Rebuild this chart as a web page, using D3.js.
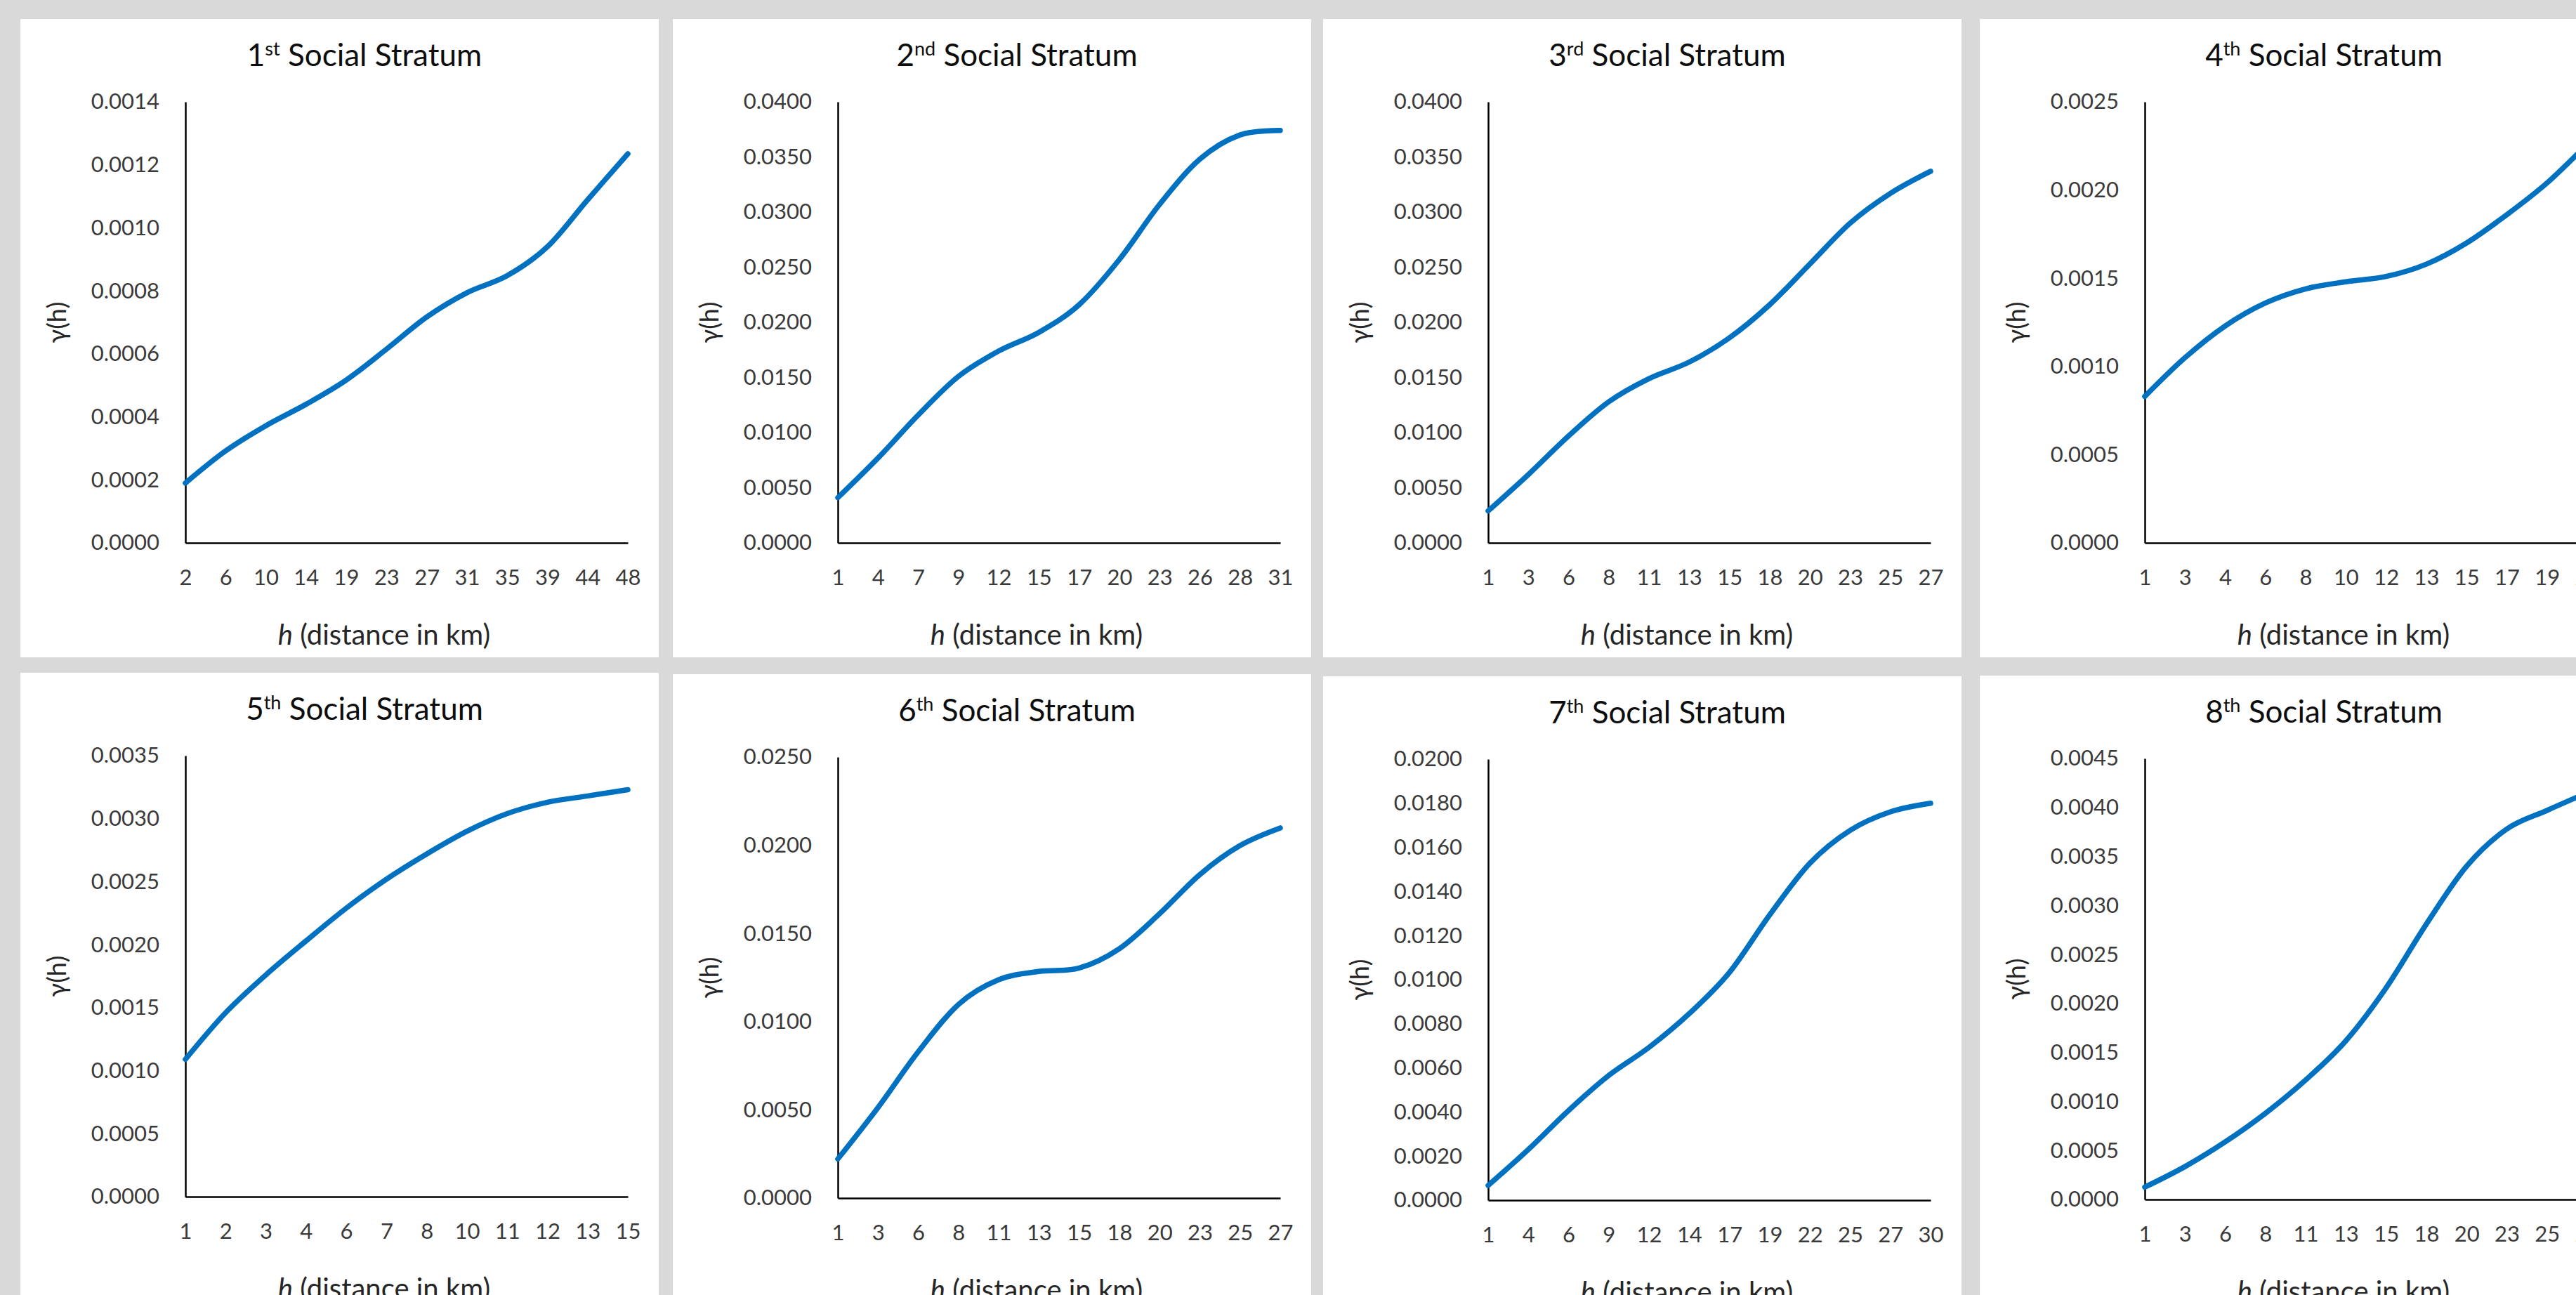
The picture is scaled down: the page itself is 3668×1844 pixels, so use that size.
<!DOCTYPE html>
<html>
<head>
<meta charset="utf-8">
<script src="https://cdn.jsdelivr.net/npm/d3@7"></script>
<style>
  html, body { margin: 0; padding: 0; background: #d9d9d9; }
  svg { display: block; }
</style>
</head>
<body>
<svg id="chart" width="3668" height="1844"></svg>
<script>
// Semivariogram panels, one per social stratum
const ordinals = ["1", "2", "3", "4", "5", "6", "7", "8"];
const ordinalSuffixes = ["st", "nd", "rd", "th", "th", "th", "th", "th"];

// Lag distance labels (km) on each category axis
const lags1 = [2, 6, 10, 14, 19, 23, 27, 31, 35, 39, 44, 48];
const lags2 = [1, 4, 7, 9, 12, 15, 17, 20, 23, 26, 28, 31];
const lags3 = [1, 3, 6, 8, 11, 13, 15, 18, 20, 23, 25, 27];
const lags4 = [1, 3, 4, 6, 8, 10, 12, 13, 15, 17, 19, 21];
const lags5 = [1, 2, 3, 4, 6, 7, 8, 10, 11, 12, 13, 15];
const lags6 = [1, 3, 6, 8, 11, 13, 15, 18, 20, 23, 25, 27];
const lags7 = [1, 4, 6, 9, 12, 14, 17, 19, 22, 25, 27, 30];
const lags8 = [1, 3, 6, 8, 11, 13, 15, 18, 20, 23, 25, 27];

// Semivariance gamma(h) at each lag
const gamma1 = [0.000190, 0.000292, 0.000372, 0.000440, 0.000517, 0.000615, 0.000717, 0.000794, 0.000848, 0.000940, 0.001089, 0.001235];
const gamma2 = [0.0041, 0.0077, 0.0116, 0.0151, 0.0174, 0.0191, 0.0216, 0.0257, 0.0307, 0.0348, 0.0370, 0.0374];
const gamma3 = [0.0029, 0.0062, 0.0097, 0.0128, 0.0149, 0.0164, 0.0186, 0.0216, 0.0253, 0.0290, 0.0317, 0.0337];
const gamma4 = [0.00083, 0.00105, 0.00123, 0.00136, 0.00144, 0.00148, 0.00151, 0.00158, 0.00170, 0.00186, 0.00204, 0.00226];
const gamma5 = [0.00109, 0.00146, 0.00176, 0.00203, 0.00229, 0.00252, 0.00272, 0.00290, 0.00304, 0.00313, 0.00318, 0.00323];
const gamma6 = [0.00222, 0.00514, 0.00830, 0.01098, 0.01238, 0.01285, 0.01304, 0.01414, 0.01612, 0.01834, 0.01998, 0.02098];
const gamma7 = [0.00067, 0.00230, 0.00407, 0.00566, 0.00693, 0.00846, 0.01033, 0.01294, 0.01528, 0.01677, 0.01761, 0.01800];
const gamma8 = [0.000126, 0.000336, 0.000588, 0.00088, 0.00122, 0.00162, 0.00216, 0.00281, 0.00340, 0.00378, 0.00397, 0.00415];

// Value-axis range and tick step of each panel
const yMaxima = [0.0014, 0.0400, 0.0400, 0.0025, 0.0035, 0.0250, 0.0200, 0.0045];
const yTickSteps = [0.0002, 0.0050, 0.0050, 0.0005, 0.0005, 0.0050, 0.0020, 0.0005];

const lagSets = [lags1, lags2, lags3, lags4, lags5, lags6, lags7, lags8];
const gammaSets = [gamma1, gamma2, gamma3, gamma4, gamma5, gamma6, gamma7, gamma8];

const svg = d3.select("#chart");

const panelW = 909, panelH = 909;
const colX = [29, 958, 1884, 2819];
const rowY = [[27, 27, 27, 27], [958, 960, 963, 962]];
const plot = { left: 235, top: 118, width: 630, height: 628 };

const fontFamily = "Lato, 'Open Sans', 'DejaVu Sans', sans-serif";
const fmt = d3.format(".4f");

gammaSets.forEach((values, i) => {
  const r = Math.floor(i / 4), c = i % 4;
  const lags = lagSets[i];
  const panel = svg.append("g")
    .attr("transform", `translate(${colX[c]},${rowY[r][c]})`);

  panel.append("rect")
    .attr("width", panelW)
    .attr("height", panelH)
    .attr("fill", "#ffffff");

  // Chart title with superscript ordinal suffix
  const title = panel.append("text")
    .attr("x", 490)
    .attr("y", 67)
    .attr("text-anchor", "middle")
    .attr("font-family", fontFamily)
    .attr("font-size", 44)
    .attr("fill", "#0d0d0d");
  title.append("tspan").text(ordinals[i]);
  title.append("tspan")
    .attr("font-size", 27)
    .attr("dy", -15)
    .text(ordinalSuffixes[i]);
  title.append("tspan")
    .attr("dy", 15)
    .text(" Social Stratum");

  const g = panel.append("g")
    .attr("transform", `translate(${plot.left},${plot.top})`);

  const x = d3.scalePoint()
    .domain(d3.range(lags.length))
    .range([0, plot.width]);

  const y = d3.scaleLinear()
    .domain([0, yMaxima[i]])
    .range([plot.height, 0]);

  const step = yTickSteps[i];
  const yTicks = d3.range(0, Math.round(yMaxima[i] / step) + 1).map(k => k * step);

  // Value axis
  const yAxis = g.append("g")
    .call(d3.axisLeft(y)
      .tickValues(yTicks)
      .tickSize(0)
      .tickSizeOuter(0)
      .tickPadding(37)
      .tickFormat(fmt));

  // Category axis
  const xAxis = g.append("g")
    .attr("transform", `translate(0,${plot.height})`)
    .call(d3.axisBottom(x)
      .tickSize(0)
      .tickSizeOuter(0)
      .tickPadding(38)
      .tickFormat(j => lags[j]));

  [yAxis, xAxis].forEach(ax => {
    ax.select(".domain")
      .attr("stroke", "#000000")
      .attr("stroke-width", 2.5);
    ax.selectAll("text")
      .attr("font-family", fontFamily)
      .attr("font-weight", 400)
      .attr("font-size", 31)
      .attr("fill", "#3a3a3a");
  });

  // Smoothed semivariogram line
  const line = d3.line()
    .x((d, j) => x(j))
    .y(d => y(d))
    .curve(d3.curveCatmullRom.alpha(0));

  g.append("path")
    .datum(values)
    .attr("d", line)
    .attr("fill", "none")
    .attr("stroke", "#0070c0")
    .attr("stroke-width", 7.5)
    .attr("stroke-linecap", "round")
    .attr("stroke-linejoin", "round");

  // Axis titles
  panel.append("text")
    .attr("transform", `translate(51,${plot.top + plot.height / 2}) rotate(-90)`)
    .attr("text-anchor", "middle")
    .attr("dominant-baseline", "central")
    .attr("font-family", fontFamily)
    .attr("font-size", 36)
    .attr("fill", "#262626")
    .text("\u03b3(h)");

  const xTitle = panel.append("text")
    .attr("x", 518)
    .attr("y", 891)
    .attr("text-anchor", "middle")
    .attr("font-family", fontFamily)
    .attr("font-size", 40)
    .attr("fill", "#262626");
  xTitle.append("tspan").attr("font-style", "italic").text("h");
  xTitle.append("tspan").text(" (distance in km)");
});
</script>
</body>
</html>
